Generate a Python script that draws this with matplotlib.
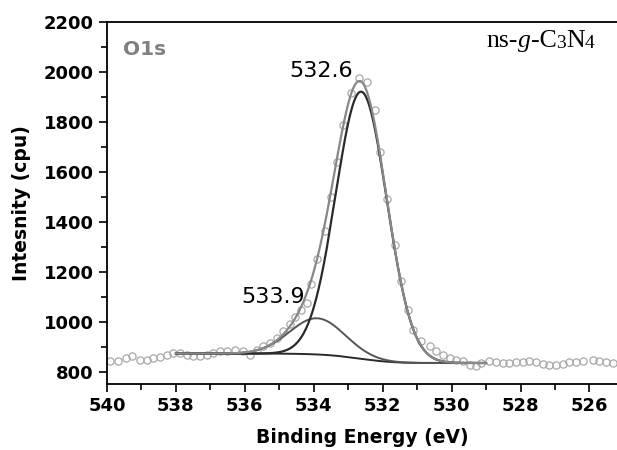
import numpy as np
import matplotlib
matplotlib.use('Agg')
from matplotlib import pyplot as plt

plt.rcParams['font.family'] = ['DejaVu Sans']

# measured points (binding energy, intensity)
energy = [539.91, 539.67, 539.45, 539.26, 539.04, 538.85, 538.66, 538.46, 538.27, 538.08,
          537.88, 537.69, 537.50, 537.30, 537.11, 536.92, 536.72, 536.53, 536.29, 536.05,
          535.86, 535.66, 535.47, 535.28, 535.08, 534.89, 534.70, 534.55, 534.36, 534.21,
          534.07, 533.90, 533.68, 533.50, 533.33, 533.15, 532.92, 532.69, 532.46, 532.23,
          532.09, 531.88, 531.65, 531.46, 531.27, 531.12, 530.88, 530.64, 530.44, 530.25,
          530.06, 529.86, 529.67, 529.48, 529.28, 529.14, 528.90, 528.71, 528.51, 528.32,
          528.12, 527.93, 527.74, 527.54, 527.35, 527.16, 526.96, 526.77, 526.58, 526.39,
          526.19, 525.90, 525.71, 525.52, 525.32]
counts = [841, 841, 854, 861, 848, 848, 854, 858, 868, 875,
          875, 868, 863, 864, 868, 875, 881, 884, 888, 881,
          868, 888, 901, 915, 935, 961, 992, 1019, 1048, 1075,
          1150, 1250, 1361, 1501, 1638, 1788, 1915, 1975, 1958, 1848,
          1681, 1492, 1308, 1161, 1048, 968, 921, 901, 881, 868,
          855, 848, 844, 828, 821, 835, 841, 837, 835, 835,
          837, 838, 841, 838, 831, 825, 828, 831, 837, 840,
          841, 848, 844, 838, 835]

# fitted peaks: center, height, sigma
peak_centers = [532.62, 533.90]
peak_heights = [1070, 145]
peak_sigmas = [0.74, 0.80]
peak_labels = ['532.6', '533.9']
bg_high, bg_low = 872, 834
fit_range = (538.0, 529.0)

xf = np.linspace(fit_range[1], fit_range[0], 600)
comps = [h * np.exp(-(xf - c) ** 2 / (2 * s ** 2))
         for c, h, s in zip(peak_centers, peak_heights, peak_sigmas)]
total = comps[0] + comps[1]
cum = np.cumsum(total)
bg = bg_low + (bg_high - bg_low) * cum / cum[-1]

fig = plt.figure(figsize=(6.17, 4.5), dpi=100)
ax = fig.add_axes([0.1734, 0.1467, 0.8266, 0.8043])

ax.plot(energy, counts, 'o', mfc='none', mec='#a8a8a8', ms=5.2, mew=0.9, zorder=2)
ax.plot(xf, bg, color='#2a2a2a', lw=1.4, zorder=3)
ax.plot(xf, bg + comps[1], color='#555555', lw=1.4, zorder=3)
ax.plot(xf, bg + comps[0], color='#2a2a2a', lw=1.6, zorder=3)
ax.plot(xf, bg + total, color='#888888', lw=1.6, zorder=4)

ax.set_xlim(540, 525.2)
ax.set_ylim(750, 2200)
ax.set_xticks(np.arange(540, 525, -2))
ax.set_xticks(np.arange(539, 525, -2), minor=True)
ax.set_yticks(np.arange(800, 2201, 200))
ax.set_yticks(np.arange(900, 2200, 200), minor=True)
ax.tick_params(which='major', direction='out', length=6, width=1.2, labelsize=13)
ax.tick_params(which='minor', direction='out', length=4, width=1.2)
for lab in ax.get_xticklabels() + ax.get_yticklabels():
    lab.set_fontweight('bold')
ax.spines['right'].set_visible(False)
for s in ['left', 'top', 'bottom']:
    ax.spines[s].set_linewidth(1.3)

ax.set_xlabel('Binding Energy (eV)', fontsize=13.5, fontweight='bold', labelpad=9)
ax.set_ylabel('Intesnity (cpu)', fontsize=13.5, fontweight='bold', labelpad=9)

ax.text(539.54, 2092, 'O1s', fontsize=14.5, fontweight='bold', color='#808080', va='center')
ax.text(534.70, 2004, peak_labels[0], fontsize=16, va='center')
ax.text(536.09, 1100, peak_labels[1], fontsize=16, va='center')

# sample name, digits smaller but on the baseline
parts = [('ns-', 18.5, 'normal'), ('g', 18.5, 'italic'), ('-C', 18.5, 'normal'),
         ('3', 14, 'normal'), ('N', 18.5, 'normal'), ('4', 14, 'normal')]
prev = None
for txt, size, style in parts:
    kw = dict(fontsize=size, style=style, family='Liberation Serif', va='baseline')
    if prev is None:
        prev = ax.text(528.99, 2100, txt, **kw)
    else:
        prev = ax.annotate(txt, xy=(1, 0), xycoords=prev, ha='left',
                           annotation_clip=False, **kw)
        prev.set_va('bottom')

fig.savefig('out.png', dpi=100)
